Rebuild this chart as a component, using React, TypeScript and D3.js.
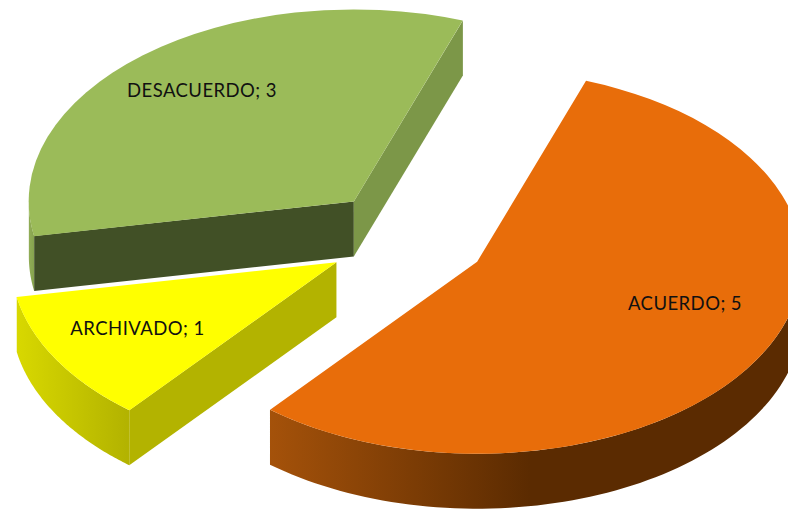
import React from "react";
import * as d3 from "d3";

const categories = ["ACUERDO", "ARCHIVADO", "DESACUERDO"];
const values = [5, 1, 3];
const topColors = ["#e86d0a", "#ffff00", "#9bbb59"];
const rimFrom = ["#a5520a", "#d8d800", "#8fab55"];
const rimTo = ["#5b2b01", "#b3b300", "#86a34e"];
const startWallColors = ["#a5520a", "#b3b300", "#415026"];
const endWallColors = ["#5b2b01", "#b3b300", "#7c9748"];
const labelPositions: [number, number][] = [[685, 305.5], [137.5, 330.5], [202, 92.5]];
const rimGradientX: [number, number][] = [[268, 530], [17, 127], [30, 34]];

const WIDTH = 788, HEIGHT = 510;
const CX = 406.5, CY = 238, RX = 325, RY = 192, DEPTH = 55, EXPLODE = 0.25;
const START = (19.6 * Math.PI) / 180;
const TAU = Math.PI * 2;

const pie = d3.pie<number>().sort(null).startAngle(START).endAngle(START + TAU);
const unitArc = d3.arc<d3.PieArcDatum<number>>().innerRadius(0).outerRadius(1);
const line = d3.line<[number, number]>();

export default function App() {
  const slices = pie(values);
  return (
    <svg
      width={WIDTH}
      height={HEIGHT}
      viewBox={`0 0 ${WIDTH} ${HEIGHT}`}
      style={{ position: "absolute", left: 0, top: 0, display: "block", background: "#fff" }}
    >
      <defs>
        {slices.map((_, i) => (
          <linearGradient
            key={i}
            id={`rim-${i}`}
            gradientUnits="userSpaceOnUse"
            x1={rimGradientX[i][0]}
            x2={rimGradientX[i][1]}
            y1={0}
            y2={0}
          >
            <stop offset="0" stopColor={rimFrom[i]} />
            <stop offset="1" stopColor={rimTo[i]} />
          </linearGradient>
        ))}
      </defs>
      {[2, 1, 0].map((i) => {
        const s = slices[i];
        const mid = (s.startAngle + s.endAngle) / 2;
        const ox = CX + EXPLODE * RX * Math.sin(mid);
        const oy = CY - EXPLODE * RY * Math.cos(mid);
        const pt = (t: number, dz = 0): [number, number] => [
          ox + RX * Math.sin(t),
          oy - RY * Math.cos(t) + dz,
        ];
        // the rim can only be seen on the lower half of the ellipse
        const spans: [number, number][] = [];
        for (const k of [0, 1]) {
          const a = Math.max(s.startAngle, Math.PI / 2 + k * TAU);
          const b = Math.min(s.endAngle, (3 * Math.PI) / 2 + k * TAU);
          if (b > a) spans.push([a, b]);
        }
        const rimPaths = spans.map(([a, b]) => {
          const ts = d3.range(0, 81).map((n) => a + ((b - a) * n) / 80);
          return (
            line([...ts.map((t) => pt(t)), ...ts.slice().reverse().map((t) => pt(t, DEPTH))]) + "Z"
          );
        });
        const wall = (t: number) =>
          line([[ox, oy], pt(t), pt(t, DEPTH), [ox, oy + DEPTH]]) + "Z";
        return (
          <g key={categories[i]}>
            {rimPaths.map((d, n) => (
              <path key={n} d={d} fill={`url(#rim-${i})`} />
            ))}
            {Math.sin(s.startAngle) < 0 && <path d={wall(s.startAngle)} fill={startWallColors[i]} />}
            {Math.sin(s.endAngle) > 0 && <path d={wall(s.endAngle)} fill={endWallColors[i]} />}
            <path
              d={unitArc(s) as string}
              fill={topColors[i]}
              transform={`translate(${ox},${oy}) scale(${RX},${RY})`}
            />
          </g>
        );
      })}
      {slices.map((s, i) => (
        <text
          key={i}
          x={labelPositions[i][0]}
          y={labelPositions[i][1]}
          textAnchor="middle"
          dominantBaseline="middle"
          fontFamily="Lato, 'Open Sans', sans-serif"
          fontSize={18.5}
          letterSpacing={0.45}
          fill="#111"
        >
          {`${categories[i]}; ${s.data}`}
        </text>
      ))}
    </svg>
  );
}
